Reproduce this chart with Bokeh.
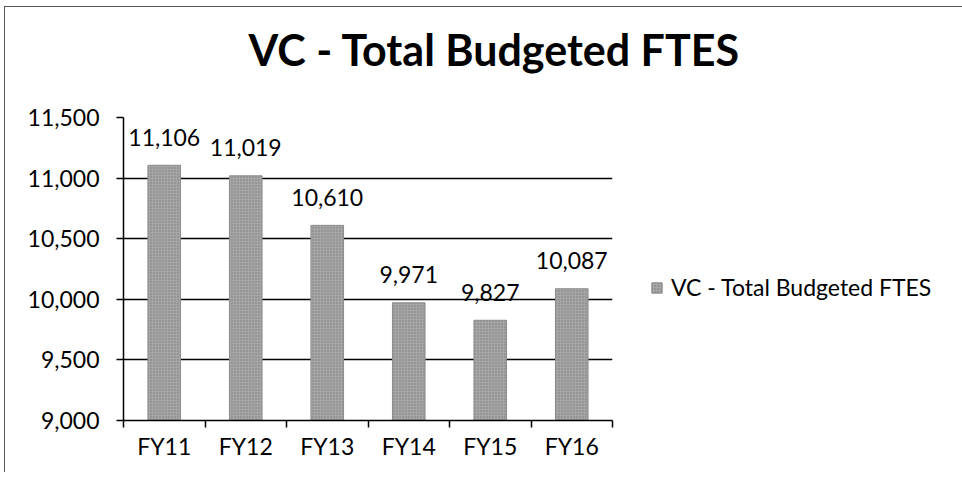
from bokeh.plotting import figure
from bokeh.models import (Range1d, FixedTicker, NumeralTickFormatter, Legend, LegendItem,
                          Title, ColumnDataSource)
from bokeh.core.properties import value
from bokeh.embed import file_html
from bokeh.resources import INLINE

categories = ["FY11", "FY12", "FY13", "FY14", "FY15", "FY16"]
ftes = [11106, 11019, 10610, 9971, 9827, 10087]
y_ticks = [9000, 9500, 10000, 10500, 11000, 11500]
series_name = "VC - Total Budgeted FTES"
title_text = "VC - Total Budgeted FTES"

FONT = "Lato"
FS = "23px"

xs = [i + 0.5 for i in range(len(categories))]
src = ColumnDataSource(dict(x=xs, top=ftes, cat=categories,
                            lbl=[f"{v:,}" for v in ftes]))

p = figure(frame_width=489, frame_height=303, output_backend="svg", toolbar_location=None,
           x_range=Range1d(0, len(categories)), y_range=Range1d(y_ticks[0], y_ticks[-1]),
           min_border_left=118, min_border_right=340, min_border_top=110, min_border_bottom=52)
p.styles = {"border-left": "1px solid #555", "border-top": "1px solid #555",
            "margin-left": "4px", "margin-top": "6px"}
p.outline_line_color = None
p.background_fill_color = "white"
p.border_fill_color = "white"
p.title.text = ""

# spacer between the frame and the chart title
spacer = Title(text=" ", text_font_size="1px", standoff=40)
p.add_layout(spacer, "above")
t = Title(text=title_text, text_font=FONT, text_font_size="43px", text_font_style="bold",
          text_color="black", align="left", offset=125, standoff=0)
p.add_layout(t, "above")

bars = p.vbar(x="x", top="top", bottom=y_ticks[0], width=0.4, source=src,
              fill_color="#a6a6a6", line_color="#8c8c8c", line_width=1,
              hatch_pattern="dot", hatch_color="#7a7a7a", hatch_scale=3, hatch_weight=1)

p.text(x="x", y="top", text="lbl", source=src, text_align="center", text_baseline="alphabetic",
       y_offset=-28, text_font=value(FONT), text_font_size=FS, text_color="black")

# y axis
p.yaxis.ticker = FixedTicker(ticks=y_ticks, minor_ticks=[])
p.yaxis.formatter = NumeralTickFormatter(format="0,0")
p.yaxis.major_label_text_font = FONT
p.yaxis.major_label_text_font_size = FS
p.yaxis.major_label_text_color = "black"
p.yaxis.axis_line_color = "black"
p.yaxis.axis_line_width = 1.5
p.yaxis.major_tick_line_color = "black"
p.yaxis.major_tick_line_width = 1.5
p.yaxis.major_tick_out = 7
p.yaxis.major_tick_in = 0
p.yaxis.minor_tick_line_color = None
p.yaxis.major_label_standoff = 17

# x axis: labels at centres, ticks at category boundaries
p.xaxis.ticker = FixedTicker(ticks=xs, minor_ticks=list(range(len(categories) + 1)))
p.xaxis.major_label_overrides = {x: c for x, c in zip(xs, categories)}
p.xaxis.major_label_text_font = FONT
p.xaxis.major_label_text_font_size = FS
p.xaxis.major_label_text_color = "black"
p.xaxis.axis_line_color = "black"
p.xaxis.axis_line_width = 1.5
p.xaxis.major_tick_line_color = None
p.xaxis.major_tick_out = 7
p.xaxis.minor_tick_line_color = "black"
p.xaxis.minor_tick_line_width = 1.5
p.xaxis.minor_tick_out = 7
p.xaxis.minor_tick_in = 0
p.xaxis.major_label_standoff = 4

p.xgrid.grid_line_color = None
p.ygrid.grid_line_color = "black"
p.ygrid.grid_line_width = 1.5
p.ygrid.ticker = FixedTicker(ticks=y_ticks)

legend = Legend(items=[LegendItem(label=series_name, renderers=[bars])],
                location=(38, 119), orientation="vertical", margin=0,
                label_text_font=FONT, label_text_font_size=FS, label_text_color="black",
                glyph_width=13, glyph_height=13, label_height=26, border_line_color=None,
                background_fill_alpha=0, padding=0, spacing=0, label_standoff=8)
p.add_layout(legend, "right")

open("out.html", "w").write(file_html(p, INLINE))
